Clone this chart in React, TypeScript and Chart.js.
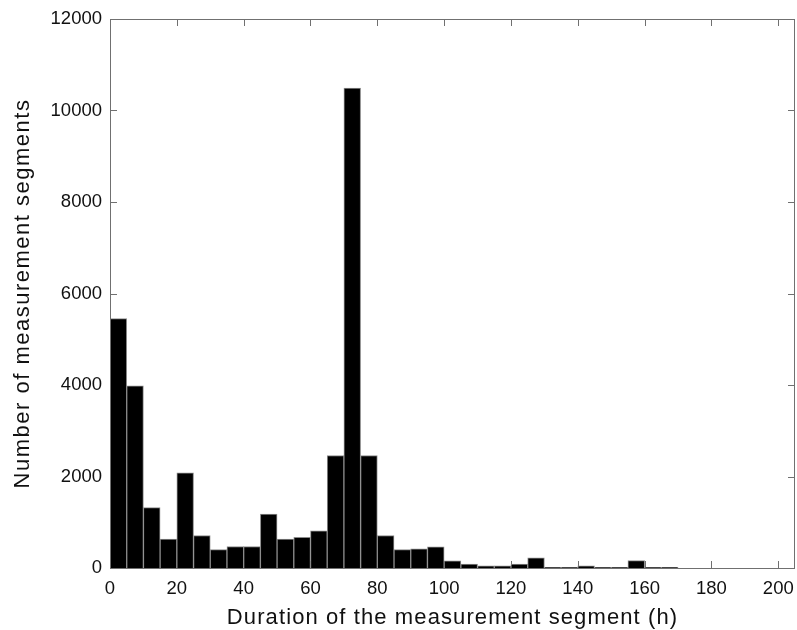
import React, { useEffect, useRef } from "react";
import { Chart, registerables } from "chart.js";

Chart.register(...registerables);

// Histogram bins (hours) — bin centres, 5 h wide
const binCenters = [
  2.5, 7.5, 12.5, 17.5, 22.5, 27.5, 32.5, 37.5, 42.5, 47.5,
  52.5, 57.5, 62.5, 67.5, 72.5, 77.5, 82.5, 87.5, 92.5, 97.5,
  102.5, 107.5, 112.5, 117.5, 122.5, 127.5, 132.5, 137.5, 142.5, 147.5,
  152.5, 157.5, 162.5, 167.5,
];

// Number of measurement segments per bin
const segmentCounts = [
  5450, 3980, 1320, 630, 2080, 710, 400, 470, 470, 1180,
  630, 670, 810, 2460, 10490, 2460, 710, 400, 420, 465,
  155, 85, 50, 50, 85, 220, 12, 12, 50, 12,
  12, 160, 12, 12,
];

const xTicks = [0, 20, 40, 60, 80, 100, 120, 140, 160, 180, 200];
const yTicks = [0, 2000, 4000, 6000, 8000, 10000, 12000];

const xTitle = "Duration of the measurement segment (h)";
const yTitle = "Number of measurement segments";

const FONT = "'Liberation Sans', Arial, Helvetica, sans-serif";
const TEXT_COLOR = "#111111";
const AXIS_COLOR = "#707070";

const boxPlugin = {
  id: "matlabBox",
  beforeDatasetsDraw(chart: any) {
    const { ctx, chartArea } = chart;
    const xs = chart.scales.x;
    const ys = chart.scales.y;
    const L = 7;
    ctx.save();
    ctx.strokeStyle = AXIS_COLOR;
    ctx.lineWidth = 1;
    ctx.beginPath();
    for (const v of xTicks) {
      const px = Math.round(xs.getPixelForValue(v)) + 0.5;
      ctx.moveTo(px, chartArea.bottom);
      ctx.lineTo(px, chartArea.bottom - L);
      ctx.moveTo(px, chartArea.top);
      ctx.lineTo(px, chartArea.top + L);
    }
    for (const v of yTicks) {
      const py = Math.round(ys.getPixelForValue(v)) + 0.5;
      ctx.moveTo(chartArea.left, py);
      ctx.lineTo(chartArea.left + L, py);
      ctx.moveTo(chartArea.right, py);
      ctx.lineTo(chartArea.right - L, py);
    }
    ctx.stroke();
    ctx.restore();
  },
  afterDraw(chart: any) {
    const { ctx, chartArea } = chart;
    ctx.save();
    ctx.strokeStyle = AXIS_COLOR;
    ctx.lineWidth = 1;
    ctx.strokeRect(
      Math.round(chartArea.left) + 0.5,
      Math.round(chartArea.top) + 0.5,
      Math.round(chartArea.right - chartArea.left) - 1,
      Math.round(chartArea.bottom - chartArea.top)
    );
    // axis titles (MATLAB-like spaced text)
    ctx.fillStyle = TEXT_COLOR;
    ctx.font = `22px ${FONT}`;
    ctx.textAlign = "center";
    ctx.textBaseline = "alphabetic";
    try {
      (ctx as any).letterSpacing = "1.1px";
    } catch (e) {}
    const cx = (chartArea.left + chartArea.right) / 2;
    ctx.fillText(xTitle, cx, 623.5);
    try {
      (ctx as any).letterSpacing = "1.5px";
    } catch (e) {}
    const cy = (chartArea.top + chartArea.bottom) / 2;
    ctx.translate(28.5, cy);
    ctx.rotate(-Math.PI / 2);
    ctx.fillText(yTitle, 0, 0);
    ctx.restore();
  },
};

export default function App() {
  const canvasRef = useRef<HTMLCanvasElement | null>(null);

  useEffect(() => {
    if (!canvasRef.current) return;
    const chart = new Chart(canvasRef.current, {
      type: "bar",
      data: {
        datasets: [
          {
            data: binCenters.map((x, i) => ({ x, y: segmentCounts[i] })),
            backgroundColor: "#000000",
            borderColor: "#8a8a8a",
            borderWidth: 1,
            borderSkipped: "bottom",
            barPercentage: 1,
            categoryPercentage: 1,
          },
        ],
      },
      options: {
        responsive: false,
        animation: false,
        events: [],
        layout: { padding: { left: 0, right: 2, top: 19, bottom: 0 } },
        plugins: {
          legend: { display: false },
          tooltip: { enabled: false },
        },
        scales: {
          x: {
            type: "linear",
            min: 0,
            max: 205,
            offset: false,
            grid: { display: false, offset: false, drawTicks: false, tickLength: 0 },
            border: { display: false },
            ticks: {
              stepSize: 20,
              includeBounds: false,
              autoSkip: false,
              maxRotation: 0,
              padding: 10,
              color: TEXT_COLOR,
              font: { family: FONT, size: 18.5 },
              callback: (v: any) => String(v),
            },
            title: { display: false },
            afterFit: (s: any) => {
              s.height = 62;
              s.paddingLeft = 0;
              s.paddingRight = 0;
            },
          },
          y: {
            type: "linear",
            min: 0,
            max: 12000,
            grid: { display: false, drawTicks: false, tickLength: 0 },
            border: { display: false },
            ticks: {
              stepSize: 2000,
              padding: 8,
              color: TEXT_COLOR,
              font: { family: FONT, size: 18.5 },
              callback: (v: any) => String(v),
            },
            title: { display: false },
            afterFit: (s: any) => {
              s.width = 110;
              s.paddingTop = 0;
              s.paddingBottom = 0;
            },
          },
        },
      },
      plugins: [boxPlugin],
    });
    return () => chart.destroy();
  }, []);

  return (
    <div style={{ position: "fixed", left: 0, top: 0, width: 797, height: 630, background: "#ffffff" }}>
      <canvas ref={canvasRef} width={797} height={630} />
    </div>
  );
}
